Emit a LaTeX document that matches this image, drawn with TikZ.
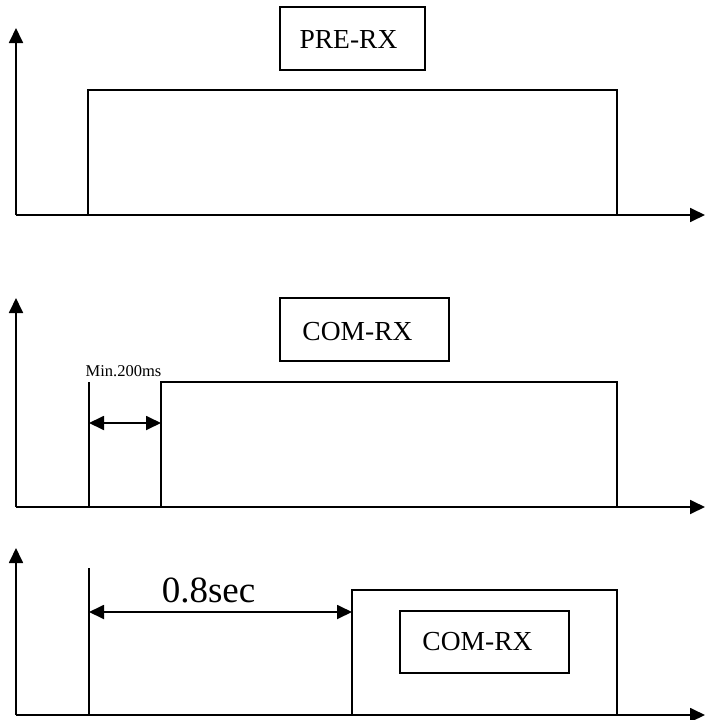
\documentclass[tikz,border=0pt]{standalone}
\usepackage{fontspec}
\setmainfont{Liberation Serif}
\usetikzlibrary{arrows.meta}
\begin{document}
\begin{tikzpicture}[x=1pt,y=-1pt,
  ln/.style={line width=1.8pt},
  ax/.style={ln,-{Triangle[length=15pt,width=14pt]}},
  dim/.style={ln,{Triangle[length=15pt,width=14pt]}-{Triangle[length=15pt,width=14pt]}},
  boxx/.style={draw,line width=1.8pt,inner sep=0pt},
  lbl/.style={inner sep=0pt,font=\fontsize{27.5}{30}\selectfont}]
\useasboundingbox (0,0) rectangle (705,720);
% panel 1
\coordinate (o1) at (16,215);
\coordinate (y1) at (16,28);
\coordinate (x1) at (705,215);
\draw[ax] (o1) -- (y1);
\draw[ax] (o1) -- (x1);
\draw[ln] (88,215) -- (88,90) -- (617,90) -- (617,215);
\node[boxx,minimum width=145pt,minimum height=63pt] (pre) at (352.5,38.5) {};
\node[lbl] (pret) at (348.5,39.5) {PRE-RX};
% panel 2
\coordinate (o2) at (16,507);
\coordinate (y2) at (16,298);
\coordinate (x2) at (705,507);
\draw[ax] (o2) -- (y2);
\draw[ax] (o2) -- (x2);
\coordinate (v2t) at (89,382);
\coordinate (v2b) at (89,507);
\draw[ln] (v2t) -- (v2b);
\draw[ln] (161,507) -- (161,382) -- (617,382) -- (617,507);
\coordinate (a2l) at (89,423);
\coordinate (a2r) at (161,423);
\draw[dim] (a2l) -- (a2r);
\node[font=\fontsize{16.5}{18}\selectfont,inner sep=0pt] (min) at (123.5,371) {Min.200ms};
\node[boxx,minimum width=169pt,minimum height=63pt] (com1) at (364.5,329.5) {};
\node[lbl] (com1t) at (357.5,332) {COM-RX};
% panel 3
\coordinate (o3) at (16,715);
\coordinate (y3) at (16,548);
\coordinate (x3) at (705,715);
\draw[ax] (o3) -- (y3);
\draw[ax] (o3) -- (x3);
\coordinate (v3t) at (89,568);
\coordinate (v3b) at (89,715);
\draw[ln] (v3t) -- (v3b);
\draw[ln] (352,715) -- (352,590) -- (617,590) -- (617,715);
\coordinate (a3l) at (89,612);
\coordinate (a3r) at (352,612);
\draw[dim] (a3l) -- (a3r);
\node[font=\fontsize{37}{40}\selectfont,inner sep=0pt] (sec) at (208.5,590.5) {0.8sec};
\node[boxx,minimum width=169pt,minimum height=62pt] (com2) at (484.5,642) {};
\node[lbl] (com2t) at (477.5,642) {COM-RX};
\end{tikzpicture}
\end{document}
